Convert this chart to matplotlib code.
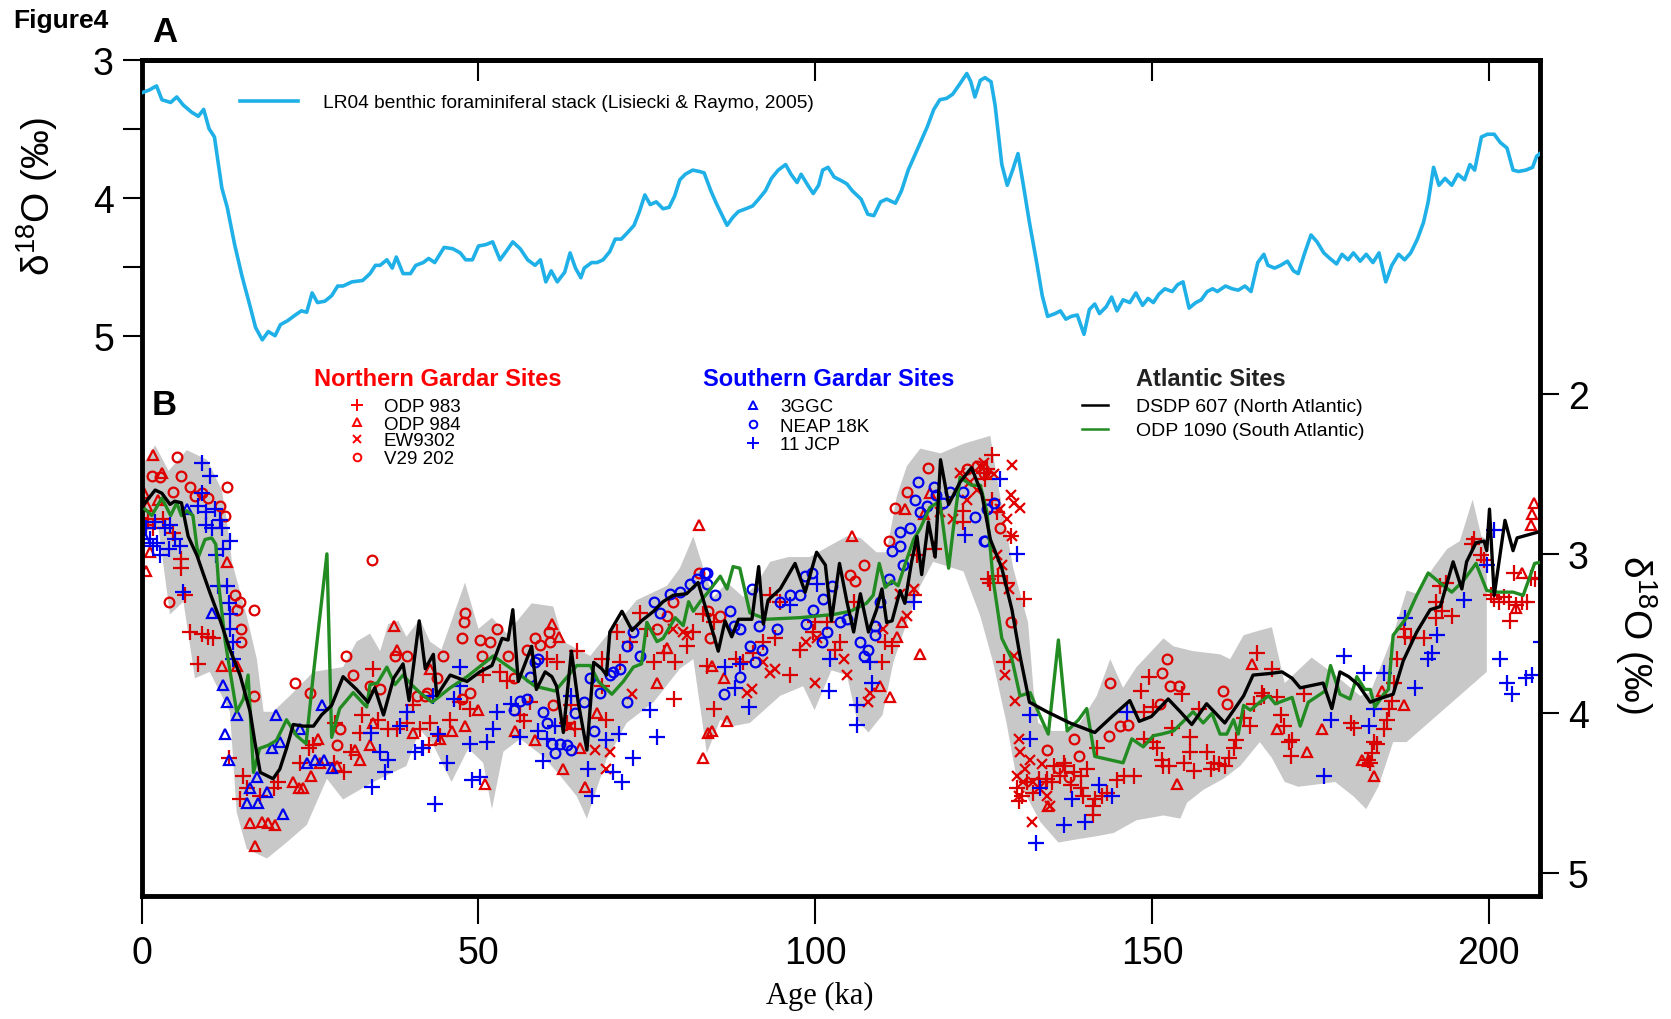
import numpy as np
import matplotlib
matplotlib.use("Agg")
import matplotlib.pyplot as plt
from matplotlib.lines import Line2D

# ---- panel A: LR04 stack
lr04_age = [0.0, 1.1, 2.2, 3.0, 4.3, 5.2, 6.2, 7.4, 8.4, 9.2, 10.0, 10.8, 11.9, 12.7, 13.8, 14.9,
            16.0, 16.9, 17.9, 18.8, 19.8, 20.6, 21.7, 22.8, 23.7, 24.5, 25.3, 26.1, 27.2, 28.2, 29.1,
            29.9, 31.2, 32.8, 33.9, 34.7, 35.4, 36.4, 37.2, 37.8, 38.8, 39.9, 40.7, 41.8, 42.6, 43.5,
            44.9, 46.2, 47.3, 48.1, 49.1, 50.0, 51.1, 52.1, 53.2, 54.1, 55.1, 56.2, 57.3, 58.4, 59.2,
            60.0, 60.8, 61.7, 62.8, 63.6, 64.4, 65.2, 65.7, 66.8, 67.6, 68.5, 69.5, 70.3, 71.2, 72.0,
            73.1, 73.9, 74.7, 75.5, 76.4, 77.4, 78.3, 79.1, 79.9, 80.7, 81.8, 82.8, 83.5, 84.5, 85.3,
            86.1, 86.9, 87.8, 88.6, 89.7, 90.7, 91.6, 92.6, 93.5, 94.5, 95.6, 96.4, 97.3, 97.9, 98.9,
            99.7, 100.5, 101.1, 101.9, 102.8, 104.0, 104.7, 105.5, 106.8, 107.8, 108.7, 109.7, 110.6,
            111.9, 112.8, 113.8, 114.7, 115.7, 116.6, 117.6, 118.5, 119.5, 120.4, 121.4, 122.5, 123.1,
            123.7, 124.5, 125.2, 126.1, 126.7, 127.7, 128.5, 129.3, 130.1, 130.9, 131.8, 132.8, 133.7,
            134.5, 135.6, 136.4, 137.2, 138.0, 138.9, 139.9, 140.7, 141.5, 142.2, 143.2, 144.0, 144.8,
            145.7, 146.7, 147.6, 148.6, 149.4, 150.2, 151.0, 151.9, 153.0, 153.8, 154.6, 155.5, 156.5,
            157.3, 158.2, 159.0, 159.7, 160.9, 161.9, 162.8, 163.8, 164.7, 165.7, 166.6, 167.2, 168.2,
            169.1, 170.1, 171.0, 171.7, 172.6, 173.6, 174.5, 175.5, 176.4, 177.4, 178.2, 179.1, 179.9,
            180.9, 181.8, 182.8, 183.7, 184.7, 185.6, 186.6, 187.5, 188.4, 189.4, 190.3, 191.0, 191.8,
            192.6, 193.5, 194.5, 195.4, 196.4, 197.2, 197.9, 198.9, 199.8, 200.8, 201.7, 202.7, 203.6,
            204.4, 205.5, 206.5, 207.1, 207.6]
lr04_d18o = [3.24, 3.22, 3.19, 3.29, 3.31, 3.27, 3.33, 3.38, 3.41, 3.36, 3.50, 3.56, 3.93, 4.07, 4.34,
             4.57, 4.77, 4.94, 5.03, 4.97, 5.00, 4.92, 4.89, 4.85, 4.82, 4.83, 4.69, 4.76, 4.75, 4.71,
             4.64, 4.64, 4.61, 4.60, 4.55, 4.49, 4.49, 4.45, 4.51, 4.43, 4.55, 4.55, 4.49, 4.47, 4.44,
             4.47, 4.36, 4.37, 4.40, 4.45, 4.45, 4.35, 4.34, 4.32, 4.45, 4.39, 4.32, 4.37, 4.45, 4.49,
             4.45, 4.61, 4.53, 4.61, 4.54, 4.40, 4.51, 4.58, 4.51, 4.47, 4.47, 4.45, 4.39, 4.30, 4.30,
             4.26, 4.20, 4.10, 3.98, 4.05, 4.03, 4.08, 4.07, 3.99, 3.87, 3.83, 3.80, 3.81, 3.82, 3.95,
             4.04, 4.12, 4.20, 4.14, 4.10, 4.08, 4.06, 4.01, 3.95, 3.86, 3.80, 3.76, 3.83, 3.89, 3.83,
             3.91, 3.97, 3.91, 3.80, 3.78, 3.85, 3.88, 3.90, 3.95, 4.01, 4.12, 4.13, 4.03, 4.01, 4.04,
             3.95, 3.80, 3.70, 3.59, 3.49, 3.36, 3.29, 3.28, 3.25, 3.18, 3.10, 3.16, 3.27, 3.15, 3.13,
             3.16, 3.33, 3.76, 3.91, 3.80, 3.68, 3.91, 4.18, 4.45, 4.71, 4.86, 4.84, 4.82, 4.88, 4.86,
             4.85, 4.99, 4.81, 4.77, 4.84, 4.79, 4.72, 4.82, 4.74, 4.76, 4.69, 4.78, 4.73, 4.76, 4.70,
             4.66, 4.68, 4.63, 4.61, 4.80, 4.76, 4.74, 4.68, 4.66, 4.68, 4.64, 4.66, 4.67, 4.64, 4.68,
             4.47, 4.41, 4.49, 4.51, 4.49, 4.46, 4.53, 4.55, 4.41, 4.27, 4.32, 4.40, 4.44, 4.48, 4.41,
             4.45, 4.40, 4.46, 4.41, 4.47, 4.40, 4.61, 4.49, 4.41, 4.45, 4.40, 4.30, 4.18, 4.03, 3.78,
             3.91, 3.86, 3.91, 3.83, 3.87, 3.76, 3.80, 3.56, 3.54, 3.54, 3.60, 3.64, 3.80, 3.81, 3.80,
             3.78, 3.70, 3.68]

# ---- panel B: envelope of the Gardar records
band_up_age = [0.0, 2.0, 4.0, 6.7, 9.7, 11.9, 12.6, 13.4, 15.6, 17.1, 18.1, 19.5, 22.0, 25.5, 29.9,
               31.9, 33.9, 35.4, 36.6, 38.1, 39.3, 41.3, 42.8, 44.5, 48.0, 50.0, 52.0, 54.2, 57.9,
               61.1, 62.6, 66.6, 68.3, 73.5, 78.0, 79.9, 81.9, 83.4, 84.9, 86.9, 89.3, 91.1, 93.3,
               96.0, 99.2, 101.7, 104.7, 106.7, 109.1, 110.6, 112.1, 113.6, 115.6, 118.6, 122.0,
               126.0, 127.0, 129.4, 131.6, 132.4, 133.1, 135.1, 137.1, 139.3, 141.8, 143.8, 145.7,
               147.7, 151.7, 153.2, 156.1, 160.1, 161.6, 163.6, 166.0, 167.8, 169.7, 173.7, 177.2,
               180.9, 182.4, 185.8, 187.8, 189.3, 191.7, 193.8, 195.7, 197.6, 198.9, 199.7]
band_up_val = [2.45, 2.32, 2.48, 2.35, 2.41, 2.60, 2.78, 3.05, 3.39, 3.66, 3.99, 3.99, 3.89, 3.74, 3.71,
               3.55, 3.50, 3.61, 3.44, 3.42, 3.52, 3.41, 3.55, 3.60, 3.18, 3.47, 3.40, 3.50, 3.31,
               3.33, 3.55, 3.64, 3.55, 3.29, 3.20, 3.09, 2.89, 3.09, 3.27, 3.18, 3.27, 3.20, 3.05,
               3.02, 3.02, 2.96, 2.89, 2.90, 2.99, 2.99, 2.64, 2.45, 2.34, 2.37, 2.31,
               2.26, 2.53, 3.09, 3.43, 3.85, 4.06, 4.11, 4.11, 4.06, 3.89, 3.66, 3.84,
               3.71, 3.53, 3.58, 3.61, 3.63, 3.66, 3.51, 3.48, 3.46, 3.81, 3.65, 3.76,
               3.89, 3.87, 3.51, 3.23, 3.25, 3.09, 2.97, 2.92, 2.66, 2.89, 2.91]
band_lo_age = [0.0, 2.5, 4.2, 6.2, 7.9, 10.1, 13.1, 14.1, 15.6, 18.6, 21.5, 24.5, 27.5, 29.9, 34.4,
               39.3, 41.3, 43.3, 46.0, 48.5, 50.7, 52.0, 53.7, 56.2, 59.6, 62.1, 64.6, 66.1, 69.0,
               72.0, 76.0, 79.9, 81.9, 83.9, 85.9, 87.8, 90.3, 94.8, 98.2, 99.9, 102.4, 104.7, 106.2,
               107.9, 110.0, 111.6, 113.6, 115.6, 117.5, 122.0, 124.5, 126.4, 128.4, 129.9, 131.9,
               133.4, 136.1, 138.8, 141.8, 144.3, 147.7, 151.7, 154.2, 155.2, 157.6, 160.6, 163.1,
               166.0, 167.8, 169.7, 171.7, 173.7, 177.2, 179.9, 181.8, 183.6, 185.8, 187.8, 199.7]
band_lo_val = [2.86, 2.84, 3.38, 3.30, 3.78, 3.74, 3.99, 4.62, 4.85, 4.91, 4.81, 4.70, 4.41, 4.54, 4.43,
               4.33, 4.10, 4.20, 4.43, 4.22, 4.31, 4.60, 4.24, 4.16, 4.27, 4.39, 4.52, 4.66, 4.29,
               4.06, 3.93, 3.72, 3.66, 4.25, 4.04, 4.08, 4.06, 3.89, 3.83, 3.98, 3.73, 3.76, 4.04,
               4.12, 4.01, 3.68, 3.43, 3.20, 3.05, 3.11, 3.39, 3.68, 4.06, 4.41, 4.56,
               4.68, 4.81, 4.79, 4.77, 4.75, 4.67, 4.64, 4.66, 4.56, 4.48, 4.41, 4.33,
               4.18, 4.28, 4.43, 4.46, 4.45, 4.43, 4.52, 4.60, 4.46, 4.18, 4.18, 3.74]

# ---- Atlantic sites
dsdp607_age = [0.5, 2.0, 3.0, 4.2, 4.9, 5.9, 6.9, 8.2, 9.1, 10.1, 11.6, 13.1, 14.6, 16.1, 16.8, 17.6,
               19.5, 20.5, 21.5, 22.5, 24.0, 25.5, 26.7, 28.2, 29.9, 31.9, 33.6, 34.6, 35.9, 37.4,
               38.8, 39.7, 41.2, 42.1, 43.3, 43.8, 45.8, 48.3, 50.2, 52.0, 53.5, 54.4, 55.1, 55.9,
               57.9, 58.6, 59.9, 60.9, 61.6, 62.6, 63.8, 64.8, 66.1, 67.1, 68.3, 69.0, 69.5, 71.3,
               72.8, 74.2, 76.0, 77.4, 78.9, 80.9, 82.6, 84.1, 85.6, 86.6, 87.6, 88.6, 90.6, 91.6,
               92.3, 93.0, 94.8, 97.0, 98.5, 100.2, 101.5, 102.4, 103.6, 104.7, 105.7, 106.7, 107.9,
               109.1, 109.9, 110.6, 111.4, 112.6, 113.3, 114.3, 115.1, 115.8, 116.8, 117.8, 118.6,
               119.8, 121.5, 123.2, 124.7, 126.0, 127.7, 129.2, 130.4, 131.8, 134.4, 137.8, 141.5,
               144.3, 146.7, 148.1, 149.9, 152.4, 154.2, 155.9, 158.1, 160.8, 163.6, 165.0, 167.5,
               169.3, 170.8, 172.0, 175.4, 176.7, 177.9, 179.2, 180.6, 182.4, 183.6, 185.8, 187.3,
               189.3, 191.3, 192.8, 194.7, 196.0, 196.7, 198.1, 199.3, 199.7, 200.1, 200.8, 202.4,
               203.6, 204.2, 207.6]
dsdp607_d18o = [2.68, 2.60, 2.62, 2.69, 2.67, 2.68, 2.89, 3.01, 3.12, 3.24, 3.41, 3.60, 3.76, 3.99, 4.18,
                4.37, 4.41, 4.35, 4.22, 4.07, 4.08, 4.08, 4.01, 3.95, 3.77, 3.85, 3.93, 3.84, 4.01, 3.78,
                3.69, 3.92, 3.42, 3.72, 3.63, 3.89, 3.76, 3.80, 3.74, 3.70, 3.53, 3.54, 3.35, 3.80,
                3.58, 3.85, 3.74, 3.77, 3.83, 4.12, 3.61, 3.93, 4.23, 3.68, 3.72, 3.76, 3.49, 3.36,
                3.48, 3.42, 3.36, 3.30, 3.26, 3.25, 3.18, 3.39, 3.61, 3.42, 3.52, 3.41, 3.41, 3.08,
                3.44, 3.29, 3.22, 3.06, 3.24, 2.99, 3.07, 3.42, 3.06, 3.30, 3.49, 3.25, 3.49,
                3.35, 3.22, 3.43, 3.42, 3.23, 3.31, 3.05, 2.89, 3.13, 2.80, 3.02, 2.41,
                2.69, 2.55, 2.46, 2.62, 2.91, 3.09, 3.35, 3.64, 3.93, 3.99, 4.06, 4.12,
                4.01, 3.92, 4.05, 4.02, 3.91, 3.99, 4.07, 3.94, 4.06, 3.89, 3.76, 3.75,
                3.74, 3.78, 3.84, 3.81, 3.97, 3.74, 3.77, 3.82, 3.93, 3.91, 3.88, 3.67,
                3.49, 3.35, 3.33, 3.05, 3.22, 3.05, 2.93, 2.92, 2.98, 2.72, 3.26, 2.79,
                2.98, 2.90, 2.86]
odp1090_age = [0.5, 1.5, 3.0, 4.3, 5.2, 5.9, 6.7, 7.6, 8.4, 9.4, 10.4, 11.0, 11.4, 12.4, 14.1, 15.1,
               15.8, 16.6, 17.5, 18.8, 20.0, 21.5, 23.0, 24.4, 25.5, 27.5, 28.2, 29.4, 31.4, 33.4,
               33.9, 35.0, 36.4, 37.6, 38.8, 40.3, 41.3, 43.1, 45.8, 48.3, 52.2, 56.2, 58.4, 61.4,
               64.6, 66.6, 67.8, 69.8, 71.5, 73.0, 74.2, 75.0, 76.5, 77.4, 79.2, 80.4, 81.2, 81.9,
               82.9, 84.1, 85.9, 86.9, 87.8, 88.8, 90.3, 92.8, 97.7, 102.7, 105.2, 107.6, 108.6,
               109.5, 110.4, 111.4, 112.3, 113.3, 114.6, 115.6, 117.0, 118.5, 119.8, 120.5, 121.5,
               123.2, 124.5, 125.5, 126.4, 127.7, 129.2, 130.4, 131.9, 133.1, 134.6, 136.1, 137.4,
               139.1, 140.3, 141.5, 145.7, 147.0, 148.7, 150.2, 151.4, 153.2, 156.1, 157.6, 158.9,
               160.1, 161.1, 162.1, 162.8, 163.6, 164.6, 166.0, 167.3, 168.3, 170.8, 172.0, 173.2,
               175.7, 176.5, 177.9, 179.4, 180.4, 181.6, 182.4, 183.1, 184.4, 185.1, 185.8, 187.8,
               189.3, 191.0, 193.0, 194.5, 196.2, 198.1, 199.7, 201.2, 203.6, 205.1, 206.8, 208.0]
odp1090_d18o = [2.72, 2.76, 2.65, 2.76, 2.68, 2.76, 2.73, 2.76, 3.02, 2.91, 2.90, 2.94, 3.18, 3.55, 3.99,
                3.91, 3.76, 4.37, 4.22, 4.20, 4.17, 4.04, 4.14, 4.19, 3.75, 3.00, 4.15, 3.97, 3.87,
                3.96, 3.82, 3.81, 3.71, 3.82, 3.76, 3.83, 3.87, 3.93, 3.84, 3.77, 3.64, 3.76, 3.83,
                3.86, 3.70, 3.70, 3.80, 3.88, 3.80, 3.71, 3.69, 3.43, 3.55, 3.53, 3.40, 3.45, 3.30,
                3.36, 3.30, 3.24, 3.14, 3.22, 3.08, 3.09, 3.37, 3.41, 3.40, 3.38, 3.36, 3.31, 3.26,
                3.06, 3.21, 3.17, 3.20, 3.07, 2.91, 2.84, 2.71, 2.67, 3.09, 2.84, 2.52,
                2.57, 2.57, 2.74, 3.16, 3.53, 3.66, 3.89, 3.87, 3.99, 4.13, 3.54, 4.11,
                4.04, 3.97, 4.27, 4.31, 4.16, 4.21, 4.14, 4.13, 4.11, 3.99, 4.06, 4.00,
                4.13, 4.13, 4.04, 4.13, 3.95, 3.98, 3.93, 3.89, 3.94, 3.90, 4.08, 3.93,
                3.86, 3.70, 3.88, 3.91, 3.77, 3.85, 3.85, 3.96, 3.88, 3.85, 3.51, 3.40,
                3.26, 3.12, 3.19, 3.24, 3.17, 3.06, 3.23, 3.24, 3.24, 3.26, 3.06, 3.05]

# ---- Northern Gardar sites
odp983_age = [1.0, 0.7, 1.7, 3.2, 4.7, 5.9, 5.9, 6.4, 7.2, 8.9, 9.9, 10.6, 8.4, 12.9, 15.1, 15.6, 14.6,
              17.6, 19.6, 20.3, 23.5, 24.8, 25.5, 30.0, 28.5, 31.0, 32.4, 34.4, 36.6, 37.9, 39.4, 41.3,
              40.3, 35.1, 32.7, 28.7, 42.8, 45.8, 47.3, 48.7, 50.7, 53.2, 54.2, 56.2, 57.7, 60.1, 61.6,
              64.6, 63.8, 63.1, 64.3, 68.3, 68.3, 69.0, 71.0, 74.0, 75.0, 76.0, 79.0, 79.2, 80.9, 81.9,
              83.9, 42.6, 44.3, 56.7, 70.5, 72.5, 77.5, 83.4, 84.9, 84.9, 88.3, 89.3, 90.8, 92.3, 94.0,
              93.3, 94.8, 96.3, 97.8, 99.7, 100.0, 101.7, 102.9, 103.7, 105.7, 109.9, 111.4, 110.4,
              115.1, 117.6, 122.0, 122.0, 125.0, 125.7, 114.6, 125.5, 126.2, 125.2, 126.2, 127.0,
              125.9, 127.2, 128.5, 129.0, 131.0, 128.0, 129.9, 130.2, 130.7, 131.4, 132.4, 133.2,
              134.2, 135.1, 136.9, 136.4, 137.9, 138.4, 139.4, 140.3, 139.8, 141.6, 141.3, 142.6,
              143.3, 144.8, 145.8, 147.3, 148.3, 149.5, 141.8, 148.8, 150.2, 148.8, 150.2, 150.7,
              151.5, 151.7, 152.5, 153.0, 154.7, 155.7, 155.7, 156.2, 156.9, 158.2, 158.7, 159.2,
              159.9, 160.9, 161.4, 162.1, 162.4, 163.6, 164.6, 165.1, 165.6, 166.3, 154.5, 141.3,
              139.4, 137.1, 135.4, 134.4, 167.8, 166.6, 168.6, 169.1, 169.6, 170.3, 170.8, 170.6,
              172.5, 179.5, 180.0, 182.9, 183.4, 182.7, 182.4, 182.0, 184.4, 184.9, 185.2, 185.7,
              185.9, 186.4, 187.4, 187.6, 188.4, 190.4, 192.1, 193.1, 192.8, 192.1, 193.6, 194.6,
              197.5, 197.8, 198.8, 199.3, 200.3, 200.8, 201.5, 202.2, 203.0, 204.0, 203.2, 205.0,
              205.7, 203.7, 206.2, 206.9]
odp983_d18o = [2.78, 2.82, 2.84, 2.78, 2.87, 3.03, 3.09, 3.26, 3.49, 3.50, 3.52, 3.53, 3.69, 4.28, 4.39,
               4.47, 4.54, 4.52, 4.47, 4.43, 4.31, 4.22, 4.20, 4.37, 4.31, 4.24, 4.12, 3.72, 4.10, 4.10,
               4.06, 4.10, 3.95, 4.04, 4.01, 4.06, 4.06, 4.04, 3.93, 3.97, 3.76, 3.74, 3.80, 4.01, 3.93,
               3.66, 3.68, 3.61, 3.95, 4.06, 4.10, 3.66, 3.83, 4.04, 3.68, 3.37, 3.47, 3.68, 3.91, 3.68,
               3.58, 3.49, 3.70, 4.20, 4.14, 4.05, 3.49, 3.55, 3.62, 3.38, 3.43, 3.97, 3.66, 3.68, 3.62,
               3.55, 3.53, 3.26, 3.30, 3.76, 3.60, 3.49, 3.43, 3.43, 3.60, 3.55, 3.30, 3.68, 3.58, 3.55,
               3.01, 2.97, 2.73, 2.80, 2.49, 3.16, 3.26, 2.47, 2.38, 2.53, 2.66, 2.74,
               3.18, 3.14, 3.18, 2.89, 3.28, 3.68, 4.47, 4.55, 4.52, 4.43, 4.50, 4.41,
               4.43, 4.43, 4.31, 4.39, 4.45, 4.37, 4.47, 4.35, 4.52, 4.54, 4.64, 4.52,
               4.50, 4.42, 4.39, 4.39, 3.86, 3.77, 4.22, 3.99, 3.96, 4.16, 4.18, 4.22,
               4.29, 4.33, 4.33, 4.09, 4.31, 4.15, 4.24, 4.36, 3.97, 4.24, 4.35, 4.31,
               4.32, 4.33, 4.28, 4.22, 4.17, 4.03, 4.08, 3.94, 3.62, 3.87, 3.88, 4.58,
               4.39, 4.33, 4.33, 4.41, 3.72, 3.89, 3.90, 4.01, 4.08, 4.18, 4.17, 4.27,
               3.88, 4.06, 4.09, 4.18, 4.19, 4.25, 4.31, 4.29, 4.10, 4.04, 3.97, 3.92,
               3.81, 3.66, 3.47, 3.52, 3.53, 3.53, 3.40, 3.36, 3.20, 3.30, 3.18, 3.39,
               2.94, 2.91, 3.01, 3.04, 3.26, 3.28, 3.30, 3.27, 3.30, 3.32, 3.42, 3.30,
               3.30, 3.12, 3.15, 3.16]
odp984_age = [0.3, 0.8, 2.4, 1.7, 3.0, 1.2, 0.7, 12.6, 11.9, 14.1, 16.1, 16.8, 17.8, 18.8, 19.8, 23.3,
              24.0, 25.2, 26.2, 22.5, 26.5, 29.0, 31.7, 32.4, 33.9, 34.4, 37.4, 37.9, 40.3, 60.9, 61.9,
              58.4, 55.4, 51.0, 44.3, 46.0, 48.0, 50.0, 42.8, 62.6, 65.8, 65.1, 67.6, 82.7, 83.4, 76.5,
              78.0, 84.1, 105.4, 84.6, 86.9, 86.4, 84.6, 109.6, 111.1, 112.1, 112.9, 115.6, 113.3,
              117.1, 116.1, 153.7, 164.8, 134.6, 168.6, 173.0, 175.3, 181.2, 182.0, 182.9, 184.2,
              187.4, 205.0, 204.0, 206.2, 206.4, 206.7]
odp984_d18o = [2.62, 2.70, 2.66, 2.38, 2.49, 2.99, 3.11, 3.05, 3.70, 3.70, 4.69, 4.83, 4.68, 4.69, 4.70,
               4.47, 4.47, 4.39, 4.16, 4.43, 4.31, 4.33, 4.23, 4.29, 4.20, 4.06, 3.45, 3.60, 4.12, 3.44,
               3.52, 4.17, 4.11, 4.44, 4.16, 4.11, 4.08, 3.98, 3.72, 4.35, 4.46, 4.22, 4.00, 2.82, 4.28,
               3.81, 3.59, 4.12, 2.89, 4.11, 4.05, 3.78, 3.70, 3.83, 3.90, 3.52, 3.43, 3.63, 2.72,
               2.62, 2.75, 4.44, 3.69, 4.58, 4.10, 4.24, 4.10, 4.29, 4.30, 4.39, 3.86,
               3.95, 3.12, 3.34, 2.82, 2.75, 2.68]
ew9302_age = [67.3, 69.0, 69.5, 63.6, 72.8, 80.4, 78.9, 80.9, 89.8, 90.6, 92.3, 93.3, 94.0, 100.0, 98.7,
              100.2, 104.2, 104.7, 107.9, 108.1, 110.1, 113.6, 114.6, 112.6, 121.5, 122.5, 118.5, 120.5,
              124.5, 125.0, 129.2, 129.0, 129.5, 130.4, 127.5, 128.5, 129.2, 127.0, 127.7, 128.7, 129.5,
              128.2, 129.7, 130.2, 130.4, 131.9, 133.7, 131.2, 129.9, 130.9, 132.4, 133.2, 132.2, 134.9,
              134.4, 130.2, 123.0, 124.0, 126.5]
ew9302_d18o = [4.23, 4.35, 4.24, 4.08, 3.88, 3.49, 3.47, 3.51, 3.87, 3.85, 3.68, 3.75, 3.72, 3.81, 3.55,
               3.53, 3.66, 3.76, 3.93, 3.87, 3.47, 3.39, 3.22, 3.25, 2.49, 2.66, 2.74, 2.78,
               2.45, 2.43, 2.44, 2.63, 2.68, 2.71, 2.72, 2.78, 2.89, 3.01, 3.07, 3.22, 3.64,
               3.76, 3.92, 4.16, 4.24, 4.29, 4.32, 4.35, 4.39, 4.43, 4.43, 4.47, 4.68, 4.58,
               4.52, 4.52, 2.55, 2.60, 2.50]
v29202_age = [5.2, 1.5, 2.7, 5.9, 4.7, 7.2, 7.9, 8.9, 9.9, 11.6, 12.6, 12.4, 4.0, 13.9, 14.6, 16.6, 14.8,
              14.8, 14.1, 34.2, 22.8, 16.6, 25.0, 30.4, 31.4, 33.9, 37.6, 39.4, 42.1, 29.5, 29.0, 40.8,
              35.4, 48.0, 47.8, 47.5, 50.2, 50.5, 52.7, 51.7, 54.4, 44.8, 43.8, 42.3, 57.2, 58.4, 59.1,
              60.4, 60.6, 55.2, 61.1, 47.5, 48.7, 76.5, 78.0, 78.9, 82.7, 84.4, 116.8, 113.6, 111.9,
              110.9, 107.2, 105.2, 105.9, 85.9, 84.1, 122.5, 124.0, 125.0, 129.0, 127.5, 134.4, 136.1,
              138.4, 139.1, 137.6, 143.6, 145.3, 146.5, 143.8, 151.2, 151.5, 152.2, 152.7, 154.0, 160.6,
              161.1]
v29202_d18o = [2.39, 2.51, 2.52, 2.51, 2.61, 2.58, 2.64, 2.62, 2.65, 2.70, 2.58, 2.76, 3.30, 3.26, 3.30,
               3.35, 3.47, 3.55, 3.35, 3.04, 3.81, 3.89, 3.87, 3.64, 3.76, 3.83, 3.64, 3.64, 3.89, 4.10,
               4.20, 3.89, 3.85, 3.37, 3.43, 3.53, 3.54, 3.64, 3.47, 3.55, 3.64, 3.64, 3.78, 3.87, 3.60,
               3.53, 3.57, 3.49, 3.55, 3.78, 3.95, 3.91, 3.87, 3.47, 3.39, 3.30, 3.12, 3.53, 2.46, 2.61,
               2.71, 2.92, 3.07, 3.13, 3.17, 3.39, 3.36, 2.47, 2.45, 2.49, 3.43, 2.84, 4.23, 4.34,
               4.16, 4.27, 4.40, 4.14, 4.08, 4.07, 3.81, 3.94, 3.75, 3.66, 3.83, 3.83, 3.86,
               3.94]

# ---- Southern Gardar sites
ggc3_age = [0.5, 6.7, 12.6, 14.1, 12.4, 12.9, 17.1, 16.1, 15.6, 17.3, 18.6, 20.0, 19.3, 20.5, 21.0, 23.5,
            24.5, 26.7, 25.7, 27.0, 28.2, 10.4, 12.1]
ggc3_d18o = [2.90, 2.72, 3.93, 4.01, 4.13, 4.29, 4.40, 4.47, 4.56, 4.56, 4.49, 4.01, 4.22, 4.18, 4.63, 4.10,
             4.31, 3.95, 4.29, 4.29, 4.34, 3.37, 3.82]
neap18k_age = [55.2, 56.2, 57.2, 59.6, 60.1, 60.9, 61.4, 62.1, 63.1, 63.8, 64.3, 65.6, 66.6, 67.1, 68.1,
               69.5, 70.0, 71.0, 72.0, 72.0, 73.0, 74.0, 76.0, 77.0, 78.4, 79.9, 81.4, 82.4, 83.6, 58.4,
               57.7, 58.9, 83.9, 83.9, 85.1, 87.4, 87.9, 88.8, 90.3, 92.1, 91.1, 88.8, 86.4, 90.6, 91.6,
               94.3, 94.8, 96.3, 97.8, 98.7, 99.7, 101.2, 102.5, 98.5, 99.5, 101.0, 101.7, 103.7, 104.7,
               106.7, 107.9, 108.9, 107.2, 108.9, 109.6, 110.9, 111.4, 112.6, 112.6, 113.1, 114.1,
               114.8, 115.3, 115.6, 116.6, 117.6, 118.0, 119.0, 120.0, 122.0, 123.7, 125.2, 125.0,
               125.5, 126.5]
neap18k_d18o = [3.98, 3.92, 3.91, 3.99, 4.06, 4.19, 4.25, 4.19, 4.20, 4.23, 4.00, 3.93, 3.78, 4.11, 3.87,
                3.76, 3.74, 3.72, 3.93, 3.58, 3.49, 3.64, 3.30, 3.37, 3.25, 3.24, 3.19, 3.16, 3.12, 3.68,
                3.77, 3.66, 3.12, 3.19, 3.26, 3.36, 3.45, 3.47, 3.58, 3.60, 3.68, 3.77, 3.88, 3.22, 3.45,
                3.47, 3.30, 3.26, 3.26, 3.44, 3.35, 3.28, 3.20, 3.14, 3.12, 3.55, 3.49, 3.43, 3.41,
                3.55, 3.60, 3.51, 3.64, 3.45, 3.30, 3.16, 2.98, 2.95, 2.86, 3.07, 2.84,
                2.66, 2.55, 2.74, 2.70, 2.58, 2.63, 2.68, 2.61, 2.61, 2.77, 2.92, 2.92,
                2.72, 2.68]
jcp11_age = [8.9, 10.1, 8.9, 8.4, 9.6, 10.9, 11.6, 9.6, 10.4, 11.9, 13.1, 12.1, 11.1, 0.7, 1.2, 2.2, 2.0,
             3.5, 4.2, 4.95, 5.7, 4.0, 2.7, 1.7, 6.2, 11.4, 12.6, 12.9, 13.1, 13.1, 13.6, 13.6, 39.4,
             38.4, 34.0, 35.4, 36.6, 36.1, 34.2, 40.6, 41.6, 47.3, 47.3, 46.3, 43.3, 52.7, 52.2, 51.2,
             48.7, 41.8, 44.0, 45.3, 49.0, 50.2, 43.5, 54.9, 56.2, 58.9, 59.6, 60.1, 61.4, 63.8, 66.3,
             66.8, 69.0, 70.8, 70.0, 71.3, 73.0, 75.5, 76.5, 86.6, 88.8, 88.1, 90.1, 102.2, 102.0,
             106.2, 106.2, 108.4, 108.1, 100.2, 96.3, 122.3, 114.6, 127.5, 129.9, 131.9, 131.9, 146.3,
             142.1, 144.1, 138.1, 136.9, 140.1, 132.7, 133.4, 178.5, 181.4, 184.4, 182.9, 182.2, 176.5,
             175.5, 187.6, 192.3, 191.6, 190.9, 189.1, 196.3, 199.8, 200.8, 201.7, 202.7, 203.5, 205.5,
             206.4, 207.7]
jcp11_d18o = [2.43, 2.51, 2.62, 2.70, 2.74, 2.72, 2.79, 2.82, 2.84, 2.84, 2.92, 2.97, 3.01, 2.84, 2.91,
              2.93, 2.80, 2.84, 2.82, 2.91, 2.95, 2.97, 3.01, 2.95, 3.24, 3.20, 3.20, 3.31, 3.38, 3.47,
              3.55, 3.66, 3.99, 4.08, 4.12, 4.24, 4.29, 4.37, 4.46, 4.24, 4.22, 3.71, 3.83, 3.91, 3.89,
              3.99, 4.10, 4.18, 4.19, 4.22, 4.13, 4.31, 4.42, 4.40, 4.57, 3.94, 4.15, 4.11, 4.30, 4.16,
              4.08, 3.89, 4.35, 4.52, 4.17, 4.13, 4.37, 4.43, 4.28, 3.98, 4.15, 3.71, 3.69, 3.84, 3.96,
              3.66, 3.86, 3.95, 4.07, 3.81, 3.68, 3.19, 3.32, 2.88, 3.30, 2.53, 3.00, 4.01, 4.16, 3.99,
              4.45, 4.52, 4.54, 4.70, 4.68, 4.81, 4.47, 3.64, 3.75, 3.75, 3.97, 4.08, 4.04,
              4.39, 3.40, 3.51, 3.62, 3.66, 3.84, 3.29, 3.07, 2.85, 3.66, 3.81, 3.88, 3.78,
              3.76, 3.55]

W, H = 1671, 1020
RED = "#e00000"
BLUE = "#0000f0"
GREEN = "#228b22"
SKY = "#1fb0e8"


def fx(x):
    return x / W


def fy(y):
    return 1 - y / H


plt.rcParams["font.family"] = ["Liberation Sans", "DejaVu Sans"]
plt.rcParams["mathtext.fontset"] = "custom"
plt.rcParams["mathtext.rm"] = "Liberation Sans"
plt.rcParams["mathtext.it"] = "Liberation Sans:italic"

fig = plt.figure(figsize=(W / 100, H / 100), dpi=100)
ax = fig.add_axes([fx(141.7), fy(897), fx(1540 - 141.7), (897 - 60.7) / H])
axA = ax.twinx()

# panel B
band_x = np.concatenate([band_up_age, band_lo_age[::-1]])
band_y = np.concatenate([band_up_val, band_lo_val[::-1]])
ax.fill(band_x, band_y, color="#c8c8c8", lw=0, zorder=1)

pts = dict(ls="none", mew=1.6, zorder=2)
ax.plot(odp983_age, odp983_d18o, marker="+", ms=11, color="#d80000", **pts)
ax.plot(odp984_age, odp984_d18o, marker="^", ms=7.5, mfc="none", color=RED, **pts)
ax.plot(ew9302_age, ew9302_d18o, marker="x", ms=7, color=RED, **pts)
ax.plot(v29202_age, v29202_d18o, marker="o", ms=7, mfc="none", color="#dd0000", **pts)
ax.plot(ggc3_age, ggc3_d18o, marker="^", ms=7.5, mfc="none", color=BLUE, **pts)
ax.plot(neap18k_age, neap18k_d18o, marker="o", ms=7, mfc="none", color=BLUE, **pts)
ax.plot(jcp11_age, jcp11_d18o, marker="+", ms=11, color=BLUE, **pts)

ax.plot(odp1090_age, odp1090_d18o, color=GREEN, lw=2.4, zorder=3)
ax.plot(dsdp607_age, dsdp607_d18o, color="black", lw=2.4, zorder=4)

ax.set_xlim(0, 207.6)
ax.set_ylim(5.145, -0.098)
ax.yaxis.tick_right()
ax.set_yticks([2, 3, 4, 5])
ax.set_xticks([0, 50, 100, 150, 200])
ax.tick_params(axis="x", direction="out", length=20, width=1.5, labelsize=27, pad=8)
ax.tick_params(axis="y", direction="out", length=14, width=1.5, labelsize=27, pad=6,
               right=True, left=False, labelright=True, labelleft=False)
for sp in ax.spines.values():
    sp.set_linewidth(3.5)

top = ax.secondary_xaxis("top")
top.set_xticks([50, 100, 150, 200])
top.set_xticklabels([])
top.tick_params(direction="in", length=15, width=1.5)
top.spines["top"].set_linewidth(3.5)

# panel A
axA.plot(lr04_age, lr04_d18o, color=SKY, lw=2.6)
axA.set_ylim(9.06, 3.0)
axA.yaxis.tick_left()
axA.set_yticks([3, 3.5, 4, 4.5, 5])
axA.set_yticklabels(["3", "", "4", "", "5"])
axA.tick_params(axis="y", direction="out", length=14, width=1.5, labelsize=27, pad=6,
                left=True, right=False, labelleft=True, labelright=False)
for sp in axA.spines.values():
    sp.set_visible(False)

# labels
fig.text(fx(12.8), fy(21.3), "Figure4", fontsize=19, fontweight="bold", va="center")
fig.text(fx(152), fy(32), "A", fontsize=25, fontweight="bold", va="center")
fig.text(fx(152), fy(406), "B", fontsize=25, fontweight="bold", va="center")
fig.text(fx(37), fy(197), "δ$^{18}$O (‰)", rotation=90, fontsize=28, ha="center", va="center")
fig.text(fx(1636), fy(634), "δ$^{18}$O (‰)", rotation=270, fontsize=28, ha="center", va="center")
fig.text(fx(820), fy(996), "Age (ka)", family="Liberation Serif", fontsize=22, ha="center", va="center")

# legends, drawn by hand
fig.add_artist(Line2D([fx(240), fx(298)], [fy(102), fy(102)], color=SKY, lw=2.6))
fig.text(fx(323), fy(104), "LR04 benthic foraminiferal stack (Lisiecki & Raymo, 2005)",
         fontsize=13.8, va="center")

fig.text(fx(314), fy(379), "Northern Gardar Sites", color="#ff0000", fontsize=17,
         fontweight="bold", va="center")
for lab, mk, y in [("ODP 983", "+", 406), ("ODP 984", "^", 423), ("EW9302", "x", 440), ("V29 202", "o", 458)]:
    fig.add_artist(Line2D([fx(357)], [fy(y)], marker=mk, ms=8 if mk == "+" else 5.5, mfc="none",
                          mew=1.4, color="#ff0000", ls="none"))
    fig.text(fx(383.6), fy(y + 2), lab, fontsize=13.5, va="center")

fig.text(fx(703), fy(379), "Southern Gardar Sites", color="#0000ff", fontsize=17,
         fontweight="bold", va="center")
for lab, mk, y in [("3GGC", "^", 406), ("NEAP 18K", "o", 425), ("11 JCP", "+", 444)]:
    fig.add_artist(Line2D([fx(753)], [fy(y)], marker=mk, ms=8 if mk == "+" else 5.5, mfc="none",
                          mew=1.4, color="#0000ff", ls="none"))
    fig.text(fx(780), fy(y + 2), lab, fontsize=13.5, va="center")

fig.text(fx(1136), fy(379), "Atlantic Sites", color="#222222", fontsize=17,
         fontweight="bold", va="center")
for lab, c, y in [("DSDP 607 (North Atlantic)", "black", 406), ("ODP 1090 (South Atlantic)", GREEN, 429.5)]:
    fig.add_artist(Line2D([fx(1082), fx(1108)], [fy(y), fy(y)], color=c, lw=1.8))
    fig.text(fx(1136), fy(y + 2), lab, fontsize=14, va="center")

fig.savefig("out.png", dpi=100)
